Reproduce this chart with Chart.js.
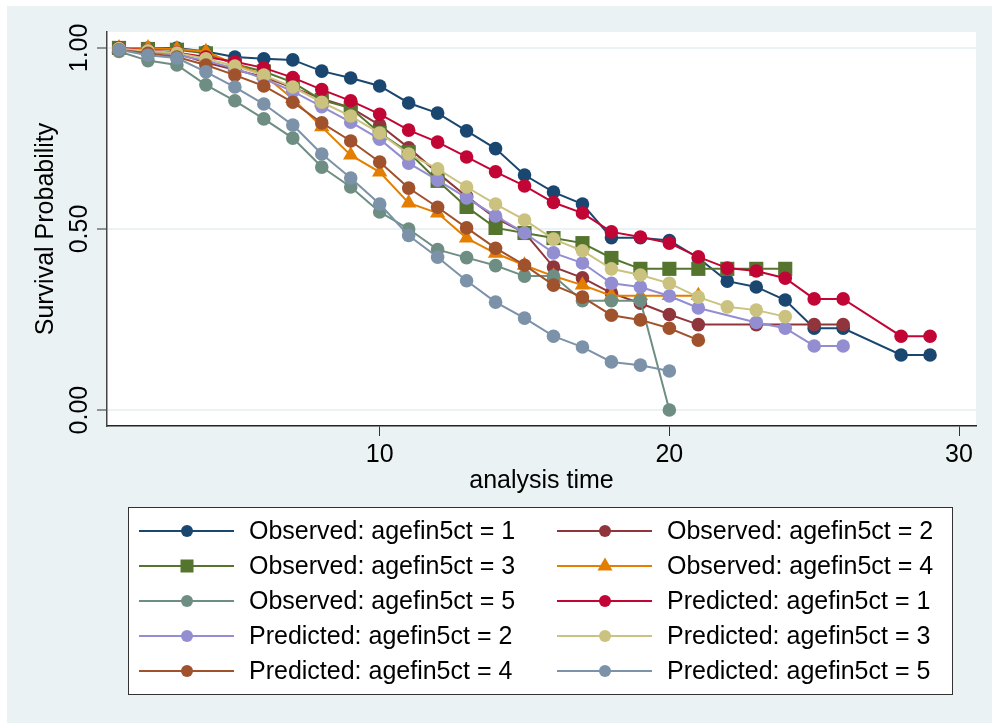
<!DOCTYPE html>
<html>
<head>
<meta charset="utf-8">
<script src="https://cdn.jsdelivr.net/npm/chart.js@4.4.1/dist/chart.umd.min.js"></script>
<style>
  html, body { margin: 0; padding: 0; background: #fff; }
  canvas { display: block; }
</style>
</head>
<body>
<canvas id="survChart" width="992" height="723"></canvas>
<script>
// analysis time (one slot per time, null = no point at that time)
const times = [1, 2, 3, 4, 5, 6, 7, 8, 9, 10, 11, 12, 13, 14, 15, 16, 17, 18, 19, 20, 21, 22, 23, 24, 25, 26, 27, 28, 29];

const obs1 = [1.0, 1.0, 1.0, 0.99, 0.975, 0.97, 0.967, 0.936, 0.917, 0.895, 0.848, 0.82, 0.771, 0.722, 0.649, 0.602, 0.569, 0.476, 0.476, 0.468, 0.42, 0.356, 0.34, 0.304, 0.226, 0.226, null, 0.152, 0.152];
const obs2 = [1.0, 0.99, 0.985, 0.96, 0.94, 0.92, 0.89, 0.86, 0.835, 0.787, 0.724, 0.655, 0.59, 0.53, 0.49, 0.395, 0.365, 0.323, 0.295, 0.264, 0.236, null, 0.236, null, 0.236, 0.236];
const obs3 = [1.0, 0.997, 0.995, 0.985, 0.955, 0.935, 0.905, 0.856, 0.834, 0.765, 0.712, 0.633, 0.561, 0.503, 0.489, 0.475, 0.461, 0.42, 0.39, 0.39, 0.39, 0.39, 0.39, 0.39];
const obs4 = [1.0, 1.0, 0.997, 0.99, 0.955, 0.925, 0.86, 0.782, 0.704, 0.657, 0.572, 0.544, 0.475, 0.433, 0.40, 0.37, 0.345, 0.316, 0.316, 0.316, 0.316];
const obs5 = [0.99, 0.965, 0.953, 0.898, 0.854, 0.804, 0.751, 0.671, 0.616, 0.547, 0.50, 0.443, 0.421, 0.399, 0.37, 0.37, 0.302, 0.302, 0.302, 0.0];
const pred1 = [1.0, 0.993, 0.987, 0.975, 0.962, 0.945, 0.918, 0.885, 0.854, 0.817, 0.773, 0.74, 0.699, 0.658, 0.619, 0.573, 0.544, 0.492, 0.478, 0.461, 0.423, 0.392, 0.384, 0.364, 0.307, 0.307, null, 0.204, 0.204];
const pred2 = [0.997, 0.99, 0.98, 0.965, 0.943, 0.915, 0.88, 0.838, 0.795, 0.748, 0.682, 0.635, 0.586, 0.536, 0.489, 0.434, 0.406, 0.35, 0.34, 0.315, 0.282, null, 0.242, 0.226, 0.177, 0.177];
const pred3 = [0.998, 0.992, 0.986, 0.97, 0.95, 0.925, 0.892, 0.85, 0.812, 0.765, 0.707, 0.666, 0.616, 0.569, 0.525, 0.472, 0.44, 0.39, 0.373, 0.35, 0.312, 0.285, 0.276, 0.258];
const pred4 = [0.995, 0.985, 0.975, 0.953, 0.925, 0.895, 0.85, 0.793, 0.743, 0.685, 0.613, 0.56, 0.503, 0.447, 0.40, 0.345, 0.312, 0.262, 0.249, 0.226, 0.193];
const pred5 = [0.995, 0.98, 0.972, 0.934, 0.892, 0.845, 0.787, 0.707, 0.641, 0.569, 0.482, 0.422, 0.357, 0.298, 0.254, 0.204, 0.174, 0.133, 0.124, 0.108];

const seriesValues = [obs1, obs2, obs3, obs4, obs5, pred1, pred2, pred3, pred4, pred5];
const seriesLabels = [
    "Observed: agefin5ct = 1", "Observed: agefin5ct = 2",
    "Observed: agefin5ct = 3", "Observed: agefin5ct = 4",
    "Observed: agefin5ct = 5", "Predicted: agefin5ct = 1",
    "Predicted: agefin5ct = 2", "Predicted: agefin5ct = 3",
    "Predicted: agefin5ct = 4", "Predicted: agefin5ct = 5"
];
const xTicks = [10, 20, 30];
const yTicks = [0, 0.5, 1];

// stata s2color
const colors = ["#1a476f", "#90353b", "#55752f", "#e37e00", "#6e8e84",
                "#c10534", "#938dd2", "#cac27e", "#a0522d", "#7b92a8"];
const markers = ["circle", "circle", "rect", "triangle", "circle",
                 "circle", "circle", "circle", "circle", "circle"];
const markerRadius = { circle: 6.8, rect: 10, triangle: 8.9 };

const FONT = "'Liberation Sans', Arial, Helvetica, sans-serif";
const BG = "#eaf2f3";

const datasets = seriesValues.map((vals, i) => ({
    label: seriesLabels[i],
    data: vals.map((v, k) => ({ x: times[k], y: v })).filter(p => p.y !== null),
    borderColor: colors[i],
    backgroundColor: colors[i],
    borderWidth: 2,
    pointStyle: markers[i],
    pointRadius: markerRadius[markers[i]],
    pointBorderWidth: 0,
    tension: 0,
    order: seriesValues.length - i
}));

/* background: white strip, light blue page, white plot region */
const bgPlugin = {
    id: "stataBg",
    beforeDraw(chart) {
        const { ctx, width, height, chartArea: a } = chart;
        ctx.save();
        ctx.fillStyle = "#ffffff";
        ctx.fillRect(0, 0, width, height);
        ctx.fillStyle = BG;
        ctx.fillRect(7, 6, width - 7, height - 6);
        ctx.fillStyle = "#ffffff";
        ctx.fillRect(a.left, a.top, a.right - a.left, a.bottom - a.top);
        ctx.restore();
    }
};

function drawMarker(ctx, style, x, y, color) {
    ctx.fillStyle = color;
    ctx.beginPath();
    if (style === "rect") {
        ctx.rect(x - 6.5, y - 6.5, 13, 13);
    } else if (style === "triangle") {
        ctx.moveTo(x, y - 8.5);
        ctx.lineTo(x + 7.5, y + 4.5);
        ctx.lineTo(x - 7.5, y + 4.5);
        ctx.closePath();
    } else {
        ctx.arc(x, y, 6, 0, Math.PI * 2);
    }
    ctx.fill();
}

/* stata style two column legend under the plot */
const legendPlugin = {
    id: "stataLegend",
    afterDraw(chart) {
        const ctx = chart.ctx;
        ctx.save();
        ctx.fillStyle = "#ffffff";
        ctx.fillRect(128, 507, 824, 187);
        ctx.strokeStyle = "#333333";
        ctx.lineWidth = 1;
        ctx.strokeRect(128.5, 507.5, 824, 187);
        ctx.font = "25px " + FONT;
        ctx.textBaseline = "middle";
        ctx.textAlign = "left";
        seriesLabels.forEach((lab, i) => {
            const x0 = (i % 2 === 0) ? 139 : 557;
            const y = 531 + 35 * Math.floor(i / 2);
            ctx.strokeStyle = colors[i];
            ctx.lineWidth = 2;
            ctx.beginPath();
            ctx.moveTo(x0, y);
            ctx.lineTo(x0 + 95, y);
            ctx.stroke();
            drawMarker(ctx, markers[i], x0 + 48, y, colors[i]);
            ctx.fillStyle = "#000000";
            ctx.fillText(lab, x0 + 110, y + 1);
        });
        ctx.restore();
    }
};

const ctx = document.getElementById("survChart").getContext("2d");

new Chart(ctx, {
    type: "line",
    data: { datasets: datasets },
    options: {
        responsive: false,
        devicePixelRatio: 1,
        animation: false,
        layout: { padding: { left: 7, top: 32, right: 16, bottom: 227 } },
        plugins: {
            legend: { display: false },
            tooltip: { enabled: false }
        },
        scales: {
            x: {
                type: "linear",
                min: 0.586,
                max: 30.586,
                afterBuildTicks: s => { s.ticks = xTicks.map(v => ({ value: v })); },
                afterFit: s => { s.height = 70; },
                border: { display: true, color: "#222222", width: 1.5 },
                grid: {
                    drawOnChartArea: false,
                    drawTicks: true,
                    tickLength: 10,
                    tickColor: "#333333",
                    tickWidth: 1
                },
                ticks: {
                    autoSkip: false,
                    maxRotation: 0,
                    padding: 4,
                    color: "#000000",
                    font: { family: FONT, size: 25 },
                    callback: v => String(v)
                },
                title: {
                    display: true,
                    text: "analysis time",
                    color: "#000000",
                    padding: { top: 0, bottom: 0 },
                    font: { family: FONT, size: 25 }
                }
            },
            y: {
                type: "linear",
                min: -0.044,
                max: 1.044,
                afterBuildTicks: s => { s.ticks = yTicks.map(v => ({ value: v })); },
                afterFit: s => { s.width = 100; },
                border: { display: true, color: "#444444", width: 1.5 },
                grid: {
                    drawOnChartArea: true,
                    color: BG,
                    lineWidth: 2,
                    drawTicks: true,
                    tickLength: 10,
                    tickColor: "#333333",
                    tickWidth: 1
                },
                ticks: {
                    minRotation: 90,
                    maxRotation: 90,
                    crossAlign: "center",
                    padding: -7,
                    color: "#000000",
                    font: { family: FONT, size: 25 },
                    callback: v => v.toFixed(2)
                },
                title: {
                    display: true,
                    text: "Survival Probability",
                    color: "#000000",
                    padding: { top: 24, bottom: 0 },
                    font: { family: FONT, size: 25 }
                }
            }
        }
    },
    plugins: [bgPlugin, legendPlugin]
});
</script>
</body>
</html>
